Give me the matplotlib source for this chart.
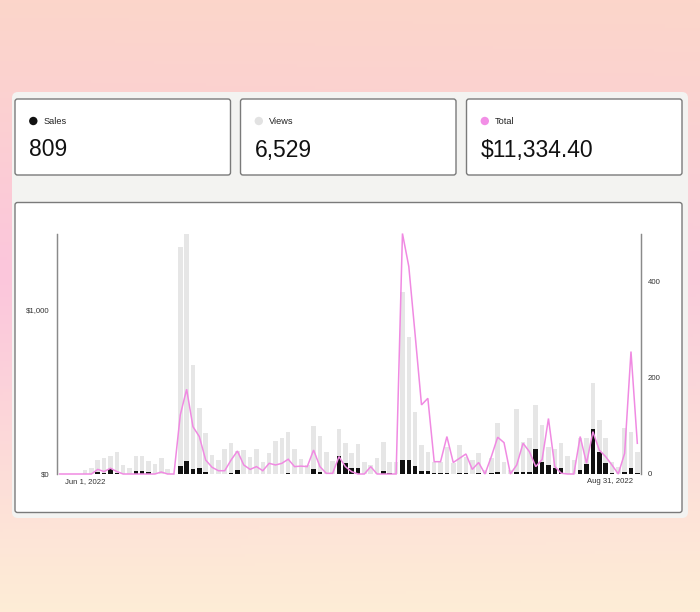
import numpy as np
import pandas as pd
import matplotlib
matplotlib.use("Agg")
import matplotlib.pyplot as plt
from matplotlib.patches import FancyBboxPatch, Circle

plt.rcParams['font.family'] = ['Liberation Sans', 'DejaVu Sans']

# ---------------- data ----------------
dates = pd.date_range('2022-06-01', '2022-08-31', freq='D')
views = [0, 0, 0, 0, 8, 12, 30, 34, 37, 46, 19, 12, 37, 37, 28, 20, 33, 10, 0,
         473, 500, 228, 138, 85, 40, 29, 52, 64, 47, 50, 36, 53, 26, 44, 69, 75, 88, 53, 31,
         19, 99, 79, 46, 27, 93, 65, 43, 62, 26, 19, 33, 67, 26, 24, 380, 286, 130, 60, 46, 26,
         26, 57, 22, 60, 36, 29, 44, 8, 33, 107, 26, 8, 135, 67, 74, 143, 102, 57, 53, 64, 37,
         29, 74, 74, 189, 112, 76, 24, 14, 95, 88, 46]
sales = [0, 0, 0, 0, 0, 0, 5, 3, 10, 3, 0, 0, 7, 7, 5, 0, 1, 0, 0,
         17, 27, 11, 13, 4, 1, 0, 1, 3, 8, 1, 0, 1, 1, 1, 1, 1, 3, 1, 1,
         0, 10, 4, 0, 1, 37, 22, 13, 13, 0, 0, 1, 7, 3, 0, 29, 29, 17, 7, 7, 2,
         2, 2, 1, 2, 2, 1, 2, 0, 2, 5, 1, 0, 5, 5, 5, 53, 25, 18, 12, 12, 0,
         0, 8, 20, 93, 45, 22, 2, 1, 4, 13, 3]
total = [0, 0, 0, 0, 0, 0, 28, 15, 35, 15, 0, 0, 0, 0, 0, 0, 12, 0, 0,
         360, 516, 288, 228, 85, 41, 20, 20, 85, 140, 55, 28, 45, 20, 65, 55, 65, 90, 45, 48,
         45, 146, 45, 4, 4, 106, 45, 14, 0, 0, 45, 0, 0, 0, 0, 1465, 1264, 847, 421, 461, 75,
         75, 228, 70, 96, 122, 28, 70, 0, 106, 224, 191, 0, 55, 187, 136, 45, 88, 338, 45, 5,
         0, 0, 228, 65, 258, 146, 106, 55, 0, 126, 746, 187]
left_ticks = [0, 1000]
left_labels = ['$0', '$1,000']
right_ticks = [0, 200, 400]
x_labels = ['Jun 1, 2022', 'Aug 31, 2022']

cards = [('Sales', '809', '#111111'),
         ('Views', '6,529', '#e2e2e2'),
         ('Total', '$11,334.40', '#f28fe6')]

PINK = '#f08ae2'
W, H = 700, 612
fig = plt.figure(figsize=(W / 100, H / 100), dpi=100)

# ---------------- background ----------------
bg = fig.add_axes([0, 0, 1, 1], zorder=0)
bg.set_xlim(0, W)
bg.set_ylim(H, 0)
bg.axis('off')
yy = np.linspace(0, 1, 200)[:, None]
xx = np.linspace(0, 1, 200)[None, :]
stops = np.array([0.0, 0.45, 1.0])
top = np.array([252, 214, 202]) / 255
mid = np.array([251, 203, 220]) / 255
bot = np.array([254, 237, 214]) / 255
cols = np.stack([top, mid, bot])
grad = np.zeros((200, 200, 3))
for c in range(3):
    grad[:, :, c] = np.interp(yy[:, 0], stops, cols[:, c])[:, None]
pinkboost = np.exp(-((yy - 0.5) ** 2) / 0.08) * (1 - xx) * 0.02
grad[:, :, 1] -= pinkboost
grad = np.clip(grad, 0, 1)
bg.imshow(grad, extent=[0, W, H, 0], aspect='auto', zorder=0)

panel = FancyBboxPatch((12, 92), 676, 426, boxstyle='round,pad=0,rounding_size=6',
                       facecolor='#f3f3f1', edgecolor='none', zorder=1)
bg.add_patch(panel)

card_x = [15, 240.5, 466.5]
for (lab, val, col), cx in zip(cards, card_x):
    bg.add_patch(FancyBboxPatch((cx, 99), 215.5, 76, boxstyle='round,pad=0,rounding_size=2.5',
                                facecolor='white', edgecolor='#7a7a7a', linewidth=1.0, zorder=2))
    bg.add_patch(Circle((cx + 18.3, 121), 4.2, facecolor=col, edgecolor='none', zorder=3))
    bg.text(cx + 28.5, 121.3, lab, fontsize=6.6, color='#222222', va='center', ha='left', zorder=3)
    bg.text(cx + 14.5, 156.5, val, fontsize=16.5, color='#111111', va='baseline', ha='left', zorder=3)

bg.add_patch(FancyBboxPatch((15, 202.5), 667, 310, boxstyle='round,pad=0,rounding_size=2.5',
                            facecolor='white', edgecolor='#7a7a7a', linewidth=1.0, zorder=2))

# ---------------- chart ----------------
L, R, T, B = 56.5, 640.5, 234, 474
ax = fig.add_axes([L / W, 1 - B / H, (R - L) / W, (B - T) / H], zorder=3)
ax.patch.set_visible(False)
x = np.arange(len(dates))
ax.bar(x, views, width=0.72, color='#e6e6e6', zorder=1)
ax.bar(x, sales, width=0.72, color='#111111', zorder=2)
ax.set_xlim(-0.5, len(dates) - 0.5)
ax.set_ylim(0, 500)

ax2 = ax.twinx()
ax2.set_zorder(4)
ax2.patch.set_visible(False)
ax2.plot(x, total, color=PINK, linewidth=1.1, clip_on=False, solid_joinstyle='miter')
ax2.set_ylim(0, 1462)

# bars (counts) on the right axis, money on the left axis
ax.yaxis.set_ticks_position('right')
ax.yaxis.set_label_position('right')
ax.set_yticks(right_ticks)
ax.set_yticklabels([str(t) for t in right_ticks])
ax2.yaxis.set_ticks_position('left')
ax2.yaxis.set_label_position('left')
ax2.set_yticks(left_ticks)
ax2.set_yticklabels(left_labels)

n = len(dates)
pos_first = (85.5 - L) / (R - L) * n - 0.5
pos_last = (610 - L) / (R - L) * n - 0.5
ax.set_xticks([pos_first, pos_last])
ax.set_xticklabels(x_labels)

for a in (ax, ax2):
    for s in ('top', 'bottom'):
        a.spines[s].set_visible(False)
    a.tick_params(length=0, labelsize=5.6, colors='#333333', pad=4)
    a.spines['left'].set_color('#8a8a8a')
    a.spines['right'].set_color('#8a8a8a')
    a.spines['left'].set_linewidth(0.9)
    a.spines['right'].set_linewidth(0.9)
ax.tick_params(axis='x', pad=3)
ax.tick_params(axis='y', pad=5)
ax2.tick_params(axis='y', pad=5)

fig.savefig('out.png', dpi=100)
